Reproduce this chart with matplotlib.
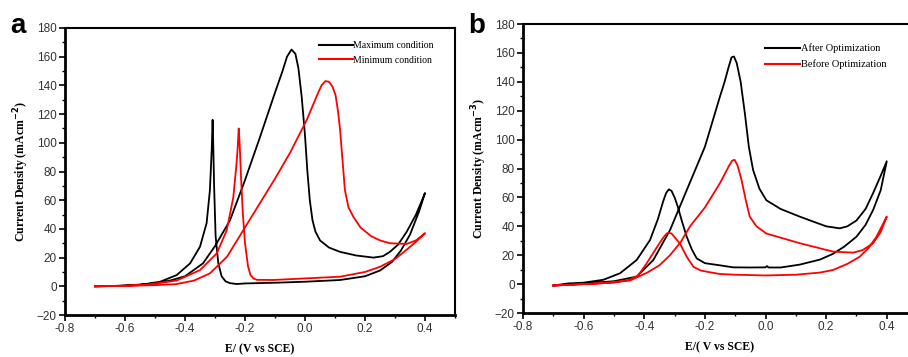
import numpy as np
import matplotlib
matplotlib.use("Agg")
from matplotlib import pyplot as plt
from matplotlib.ticker import MultipleLocator
from matplotlib.lines import Line2D

# panel a - Maximum condition (forward scan then reverse scan)
a_max_E = [-0.70, -0.60, -0.50, -0.45, -0.40, -0.34, -0.30, -0.25, -0.20, -0.15, -0.10, -0.075,
           -0.06, -0.045, -0.032, -0.022, -0.011, 0.0, 0.008, 0.016, 0.025, 0.035, 0.05, 0.08,
           0.117, 0.17, 0.228, 0.26, 0.283, 0.31, 0.339, 0.37, 0.40,
           0.38, 0.35, 0.32, 0.29, 0.25, 0.20, 0.117, 0.0, -0.10, -0.20, -0.228, -0.25, -0.265,
           -0.278, -0.289, -0.298, -0.303, -0.306, -0.308, -0.311, -0.317, -0.328, -0.35,
           -0.383, -0.428, -0.483, -0.55, -0.62, -0.70]
a_max_J = [0, 0.5, 2, 4, 7, 16, 28, 46, 74, 104, 135, 150,
           160, 165, 162, 152, 132, 105, 80, 60, 46, 38, 32, 27,
           24, 21.5, 20, 21, 24, 29, 38, 50, 65,
           52, 36, 25, 17, 11, 7, 4.4, 3.2, 2.5, 2, 1.6, 2.2, 3.5,
           7, 16, 35, 70, 100, 116, 95, 67, 44, 27.6,
           16, 7.8, 3.2, 1, 0.3, 0]

# panel a - Minimum condition
a_min_E = [-0.70, -0.60, -0.50, -0.43, -0.37, -0.317, -0.26, -0.206, -0.15, -0.10, -0.05, 0.006,
           0.04, 0.055, 0.068, 0.08, 0.092, 0.102, 0.11, 0.117, 0.125, 0.133, 0.145, 0.161,
           0.185, 0.22, 0.25, 0.283, 0.339, 0.37, 0.40,
           0.37, 0.33, 0.30, 0.25, 0.20, 0.117, 0.0, -0.106, -0.16, -0.172, -0.182, -0.19,
           -0.20, -0.207, -0.213, -0.218, -0.221, -0.224, -0.228, -0.239, -0.261, -0.294,
           -0.35, -0.428, -0.533, -0.62, -0.70]
a_min_J = [0, 0.3, 0.8, 1.5, 4, 9, 20.6, 39, 58, 75, 93, 116,
           133, 140, 143, 142.5, 139, 133, 122, 109, 88, 67, 55, 48.5,
           41, 35, 32, 30, 29.5, 32, 37,
           31, 24, 19, 13.6, 10, 6.7, 5.5, 4.4, 4.5, 5.5, 8, 14,
           30, 50, 75, 100, 110, 98, 86, 62, 39, 23,
           11.3, 4, 1, 0.3, 0]

# panel b - After Optimization
b_aft_E = [-0.70, -0.65, -0.60, -0.535, -0.48, -0.425, -0.381, -0.355, -0.338, -0.328,
           -0.319, -0.31, -0.30, -0.29, -0.275, -0.26, -0.243, -0.227, -0.20, -0.15, -0.107,
           -0.05, 0.0, 0.005, 0.01, 0.05, 0.113, 0.18, 0.223, 0.26, 0.30, 0.33, 0.355, 0.38,
           0.40,
           0.38, 0.355, 0.33, 0.30, 0.27, 0.245, 0.20, 0.113, 0.05, 0.003, -0.02, -0.041,
           -0.055, -0.068, -0.082, -0.095, -0.104, -0.112, -0.122, -0.135, -0.15, -0.20,
           -0.26, -0.315, -0.37, -0.425, -0.50, -0.60, -0.70]
b_aft_J = [-1, 0.5, 1, 3, 7.5, 16.7, 30.5, 45, 57, 63, 65.6, 64.5, 60,
           54, 43, 32.8, 24, 17.8, 14.5, 13, 11.6,
           11.5, 11.6, 12.5, 11.5, 11.5, 13.5, 17, 21, 26, 32.8, 41, 51.3, 65,
           85,
           75, 63, 52, 44, 40, 38.6, 40, 46.7, 52, 58, 66, 79,
           95, 118, 140, 153, 157.5, 157, 150, 140, 130, 95,
           65, 37.4, 16.7, 5.2, 2, 0.5, -1]

# panel b - Before Optimization
b_bef_E = [-0.70, -0.60, -0.50, -0.45, -0.42, -0.392, -0.36, -0.338, -0.326, -0.319, -0.31,
           -0.298, -0.282, -0.26, -0.238, -0.215, -0.194, -0.15, -0.10, 0.0, 0.10, 0.18, 0.223,
           0.27, 0.311, 0.34, 0.366, 0.40,
           0.38, 0.355, 0.32, 0.289, 0.223, 0.113, 0.003, -0.03, -0.052, -0.065, -0.079,
           -0.092, -0.102, -0.11, -0.12, -0.15, -0.20, -0.249, -0.28, -0.315, -0.35, -0.39,
           -0.447, -0.55, -0.70]
b_bef_J = [-1, 0, 1, 3, 6, 14.4, 25, 32, 35, 35.6, 35,
           32, 28, 19, 12, 9.5, 8.6, 7, 6.5, 6, 6.5, 8, 9.8,
           14, 19, 25, 32.8, 46.7,
           36, 28.3, 23.5, 21.8, 22.5, 28.3, 35, 40, 46.7, 58, 72,
           82, 86, 85.5, 82, 70, 53, 40, 29, 20, 13, 8,
           2.5, 0.5, -1]

x_ticks = [-0.8, -0.6, -0.4, -0.2, 0.0, 0.2, 0.4]
y_ticks = [-20, 0, 20, 40, 60, 80, 100, 120, 140, 160, 180]

fig = plt.figure(figsize=(9.08, 3.57), dpi=100)

sans = "Liberation Sans"
serif = "Liberation Serif"


def setup_axes(ax, ylab, xlab):
    ax.set_xlim(-0.8, 0.5)
    ax.set_ylim(-20, 180)
    ax.set_xticks(x_ticks)
    ax.set_yticks(y_ticks)
    ax.set_xticklabels([f"{v:.1f}" for v in x_ticks])
    ax.xaxis.set_minor_locator(MultipleLocator(0.1))
    ax.yaxis.set_minor_locator(MultipleLocator(10))
    ax.tick_params(which="major", direction="out", length=4, width=1.2,
                   labelsize=8.5, labelcolor="#333333", pad=2)
    ax.tick_params(which="minor", direction="out", length=2.2, width=1.0)
    for lab in ax.get_xticklabels() + ax.get_yticklabels():
        lab.set_family(sans)
    for s in ax.spines.values():
        s.set_linewidth(1.5)
    ax.spines["left"].set_linewidth(2)
    ax.spines["bottom"].set_linewidth(2)
    ax.set_ylabel(ylab, family=serif, fontweight="bold", fontsize=8.5, labelpad=4)
    ax.set_xlabel(xlab, family=serif, fontweight="bold", fontsize=8.5, labelpad=6)


ax1 = fig.add_axes([0.0716, 0.1176, 0.4295, 0.804])
ax1.plot(a_max_E, a_max_J, color="black", lw=1.3)
ax1.plot(a_min_E, a_min_J, color="red", lw=1.3)
setup_axes(ax1, "Current Density (mAcm$^{\\mathbf{-2}}$)", "E/ (V vs SCE)")
h1 = [Line2D([], [], color="black", lw=1.5), Line2D([], [], color="red", lw=1.5)]
ax1.legend(h1, ["Maximum condition", "Minimum condition"], loc="upper left",
           bbox_to_anchor=(0.63, 0.985), frameon=False, handlelength=3.4,
           handletextpad=0.1, labelspacing=0.6, prop={"family": serif, "size": 7})

ax2 = fig.add_axes([0.576, 0.1232, 0.434, 0.8095])
ax2.plot(b_aft_E, b_aft_J, color="black", lw=1.3)
ax2.plot(b_bef_E, b_bef_J, color="red", lw=1.3)
setup_axes(ax2, "Current Density (mAcm$^{\\mathbf{-3}}$)", "E/( V vs SCE)")
h2 = [Line2D([], [], color="black", lw=1.5), Line2D([], [], color="red", lw=1.5)]
ax2.legend(h2, ["After Optimization", "Before Optimization"], loc="upper left",
           bbox_to_anchor=(0.59, 0.965), frameon=False, handlelength=3.4,
           handletextpad=0.1, labelspacing=0.6, prop={"family": serif, "size": 7.5})

fig.text(0.011, 0.907, "a", family=sans, fontweight="bold", fontsize=20, va="baseline")
fig.text(0.516, 0.907, "b", family=sans, fontweight="bold", fontsize=20, va="baseline")

fig.savefig("out.png", dpi=100)
